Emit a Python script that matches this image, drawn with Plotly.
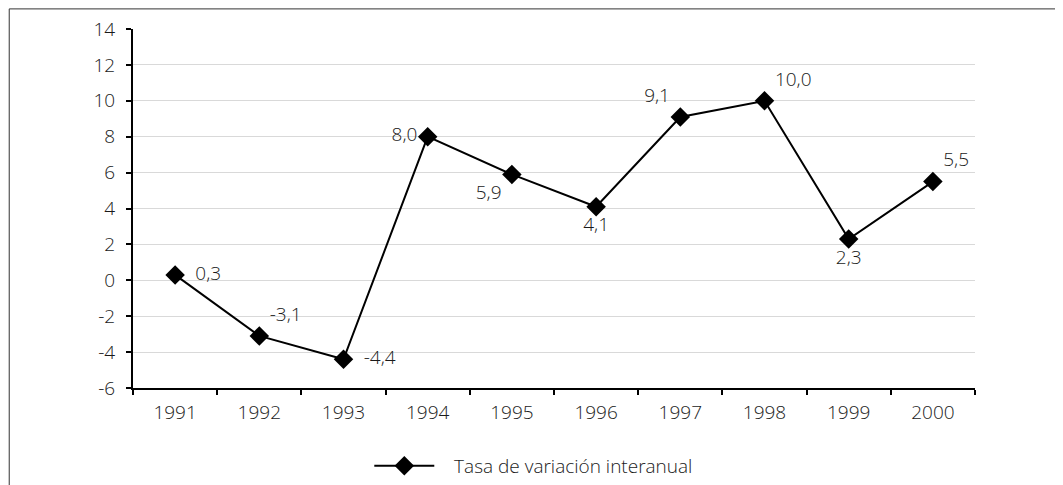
import plotly.graph_objects as go

years = ["1991", "1992", "1993", "1994", "1995", "1996", "1997", "1998", "1999", "2000"]
tasa = [0.3, -3.1, -4.4, 8.0, 5.9, 4.1, 9.1, 10.0, 2.3, 5.5]
label_pos = ["middle right", "top right", "middle right", "middle left", "bottom left",
             "bottom center", "top left", "top right", "bottom center", "top right"]
y_ticks = [-6, -4, -2, 0, 2, 4, 6, 8, 10, 12, 14]

font = dict(family="Open Sans", size=19, color="#1a1a1a", weight=300)

labels = []
for v, p in zip(tasa, label_pos):
    s = f"{v:.1f}".replace(".", ",")
    # a bit more room for labels sitting right of the marker
    if p == "middle right":
        s = "  " + s
    labels.append(s)

fig = go.Figure()
fig.add_trace(go.Scatter(
    x=years, y=tasa, mode="lines+markers+text",
    name="\u00a0\u00a0\u00a0Tasa de variación interanual",
    line=dict(color="black", width=2),
    marker=dict(symbol="diamond", size=15, color="black"),
    text=labels,
    textposition=label_pos,
    textfont=font,
))

# page body has an 8px margin, so the figure is a bit smaller than the window
fig.update_layout(
    width=1055, height=477,
    margin=dict(l=125, r=88, t=21, b=97, autoexpand=False),
    paper_bgcolor="white", plot_bgcolor="white",
    font=font,
    showlegend=True,
    legend=dict(orientation="h", x=0.476, xanchor="center", y=-0.164, yanchor="top",
                font=font, itemwidth=60),
    xaxis=dict(type="category", tickson="boundaries", ticks="outside", ticklen=5,
               tickwidth=2, tickcolor="black", showline=True, linecolor="black",
               linewidth=2, showgrid=False, range=[-0.5, 9.5], ticklabelstandoff=6),
    yaxis=dict(range=[-6, 14], tickvals=y_ticks, ticktext=[str(t) for t in y_ticks],
               ticks="outside", ticklen=5, tickwidth=2, ticklabelstandoff=7,
               tickcolor="black", showline=True, linecolor="black", linewidth=2,
               showgrid=True, gridcolor="#d9d9d9", gridwidth=1, zeroline=False),
    shapes=[dict(type="rect", xref="paper", yref="paper",
                 x0=-0.147, x1=1.101, y0=-0.5, y1=1.056,
                 line=dict(color="#333333", width=1))],
)

fig.write_html("out.html")
